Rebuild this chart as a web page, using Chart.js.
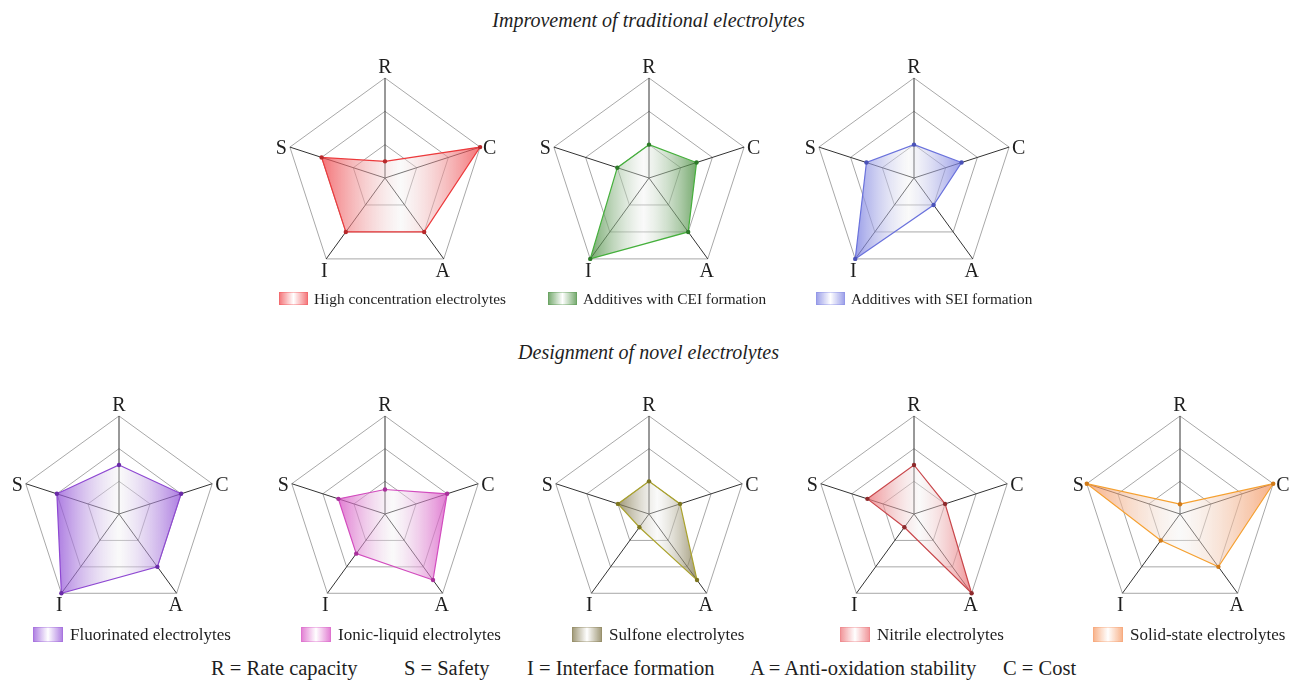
<!DOCTYPE html>
<html>
<head>
<meta charset="utf-8">
<script src="https://cdn.jsdelivr.net/npm/chart.js@4.4.0/dist/chart.umd.min.js"></script>
<style>
  body { margin: 0; background: #fff; width: 1297px; height: 680px; position: relative; overflow: hidden;
         font-family: "Liberation Serif", "DejaVu Serif", serif; color: #1e1e1e; }
  .title { position: absolute; left: 0; width: 1297px; text-align: center; font-style: italic;
           font-size: 20px; line-height: 24px; }
  canvas { position: absolute; }
  .legend { position: absolute; display: flex; align-items: center; white-space: nowrap; }
  .legend .box { box-sizing: border-box; }
  .footer span { position: absolute; top: 656px; font-size: 20.5px; line-height: 24px; white-space: nowrap; }
</style>
</head>
<body>
<div class="title" style="top:8px">Improvement of traditional electrolytes</div>
<div class="title" style="top:340px">Designment of novel electrolytes</div>
<div class="footer">
  <span style="left:211px">R = Rate capacity</span>
  <span style="left:404px">S = Safety</span>
  <span style="left:527px">I = Interface formation</span>
  <span style="left:750px">A = Anti-oxidation stability</span>
  <span style="left:1003px">C = Cost</span>
</div>

<script>
// axes, clockwise from the top
const axisLabels = ["R", "C", "A", "I", "S"];

// scores on a 0..3 scale, same order as axisLabels
const highConcentration = [0.5, 3, 2, 2, 2];
const additivesCEI = [1, 1.5, 2, 3, 1];
const additivesSEI = [1, 1.5, 1, 3, 1.5];
const fluorinated = [1.5, 2, 2, 3, 2];
const ionicLiquid = [0.75, 2, 2.5, 1.5, 1.5];
const sulfone = [1, 1, 2.5, 0.5, 1];
const nitrile = [1.5, 1, 3, 0.5, 1.5];
const solidState = [0.3, 3, 2, 1, 3];

const seriesNames = [
  "High concentration electrolytes", "Additives with CEI formation", "Additives with SEI formation",
  "Fluorinated electrolytes", "Ionic-liquid electrolytes", "Sulfone electrolytes",
  "Nitrile electrolytes", "Solid-state electrolytes"
];
const seriesValues = [highConcentration, additivesCEI, additivesSEI, fluorinated,
                      ionicLiquid, sulfone, nitrile, solidState];

// look of each panel (top row has a smaller legend)
const panels = [
  { cx: 385, cy: 178, r: 100, legX: 279, legY: 298.5, big: false, line: "#ec3a3c", dot: "#b8282a", fill: "240,70,75" },
  { cx: 649, cy: 178, r: 100, legX: 548, legY: 298.5, big: false, line: "#45b03c", dot: "#2c7a28", fill: "70,140,60" },
  { cx: 914, cy: 178, r: 100, legX: 816, legY: 298.5, big: false, line: "#6a72dc", dot: "#4a52b8", fill: "120,125,225" },
  { cx: 119, cy: 514, r: 98, legX: 33, legY: 634.5, big: true, line: "#8e48d2", dot: "#6a2aa8", fill: "145,80,215" },
  { cx: 385, cy: 514, r: 98, legX: 301, legY: 634.5, big: true, line: "#d24cbe", dot: "#a8309a", fill: "215,80,195" },
  { cx: 649, cy: 514, r: 98, legX: 572, legY: 634.5, big: true, line: "#aaa22c", dot: "#7d7620", fill: "125,115,70" },
  { cx: 914, cy: 514, r: 98, legX: 840, legY: 634.5, big: true, line: "#c8464a", dot: "#8e2a2c", fill: "235,110,115" },
  { cx: 1180, cy: 514, r: 98, legX: 1093, legY: 634.5, big: true, line: "#f5a030", dot: "#d07a18", fill: "245,150,95" }
];

function fillGradient(ctx, rgb) {
  const chart = ctx.chart;
  const scale = chart.scales && chart.scales.r;
  if (!scale || !chart.chartArea) return `rgba(${rgb},0.3)`;
  const xs = ctx.dataset.data.map((v, i) => scale.getPointPositionForValue(i, v).x);
  const x0 = Math.min(...xs), x1 = Math.max(...xs);
  const g = chart.ctx.createLinearGradient(x0, 0, x1, 0);
  g.addColorStop(0, `rgba(${rgb},0.75)`);
  g.addColorStop(0.5, "rgba(240,240,240,0.35)");
  g.addColorStop(1, `rgba(${rgb},0.75)`);
  return g;
}

// axis letters placed like the figure: R above, C/S beside, I/A below the outer corners
const axisLetters = {
  id: "axisLetters",
  afterDraw(chart) {
    const s = chart.scales.r;
    const ctx = chart.ctx;
    ctx.save();
    ctx.font = "20px 'Liberation Serif', serif";
    ctx.fillStyle = "#1e1e1e";
    ctx.textBaseline = "alphabetic";
    axisLabels.forEach((lab, i) => {
      const pt = s.getPointPosition(i, s.drawingArea);
      const ang = i * 360 / axisLabels.length;
      if (ang === 0) {
        ctx.textAlign = "center";
        ctx.fillText(lab, pt.x, pt.y - 5);
      } else if (ang < 90) {
        ctx.textAlign = "left";
        ctx.fillText(lab, pt.x + 3, pt.y + 7);
      } else if (ang < 270) {
        ctx.textAlign = "center";
        ctx.fillText(lab, pt.x + (ang < 180 ? -1 : -2), pt.y + 18);
      } else {
        ctx.textAlign = "right";
        ctx.fillText(lab, pt.x - 3, pt.y + 7);
      }
    });
    ctx.restore();
  }
};

panels.forEach((p, k) => {
  const canvas = document.createElement("canvas");
  document.body.appendChild(canvas);
  canvas.width = 2 * p.r + 70;
  canvas.height = 2 * p.r + 70;
  canvas.style.width = canvas.width + "px";
  canvas.style.height = canvas.height + "px";

  const chart = new Chart(canvas.getContext("2d"), {
    type: "radar",
    data: {
      labels: axisLabels,
      datasets: [{
        label: seriesNames[k],
        data: seriesValues[k],
        borderColor: p.line,
        borderWidth: 1.2,
        backgroundColor: ctx => fillGradient(ctx, p.fill),
        fill: true,
        pointRadius: 2.2,
        pointBorderWidth: 0,
        pointBackgroundColor: p.dot
      }]
    },
    options: {
      responsive: false,
      maintainAspectRatio: false,
      animation: false,
      layout: { padding: 35 },
      plugins: { legend: { display: false }, tooltip: { enabled: false } },
      scales: {
        r: {
          min: 0,
          max: 3,
          ticks: { display: false, stepSize: 1 },
          grid: { color: "#a8a8a8", lineWidth: 1 },
          angleLines: { color: "#333", lineWidth: 1 },
          pointLabels: { display: false }
        }
      }
    },
    plugins: [axisLetters]
  });

  // fit the canvas so the outer ring has the wanted radius, then centre it
  for (let i = 0; i < 3; i++) {
    const diff = p.r - chart.scales.r.drawingArea;
    if (Math.abs(diff) < 0.5) break;
    chart.resize(Math.round(canvas.clientWidth + 2 * diff), Math.round(canvas.clientHeight + 2 * diff));
  }
  canvas.style.left = (p.cx - chart.scales.r.xCenter) + "px";
  canvas.style.top = (p.cy - chart.scales.r.yCenter) + "px";

  // legend row under the panel
  const boxW = p.big ? 30 : 29, boxH = p.big ? 15 : 13;
  const leg = document.createElement("div");
  leg.className = "legend";
  leg.style.left = p.legX + "px";
  leg.style.top = (p.legY - 12) + "px";
  leg.style.height = "24px";
  leg.style.fontSize = (p.big ? 17 : 15.3) + "px";
  const box = document.createElement("span");
  box.className = "box";
  box.style.width = boxW + "px";
  box.style.height = boxH + "px";
  box.style.marginRight = (p.big ? 7 : 6) + "px";
  box.style.background = `linear-gradient(to right, rgba(${p.fill},0.7), rgba(255,255,255,0.9) 50%, rgba(${p.fill},0.7))`;
  box.style.border = `1px solid rgba(${p.fill},0.35)`;
  const txt = document.createElement("span");
  txt.textContent = seriesNames[k];
  leg.appendChild(box);
  leg.appendChild(txt);
  document.body.appendChild(leg);
});
</script>
</body>
</html>
